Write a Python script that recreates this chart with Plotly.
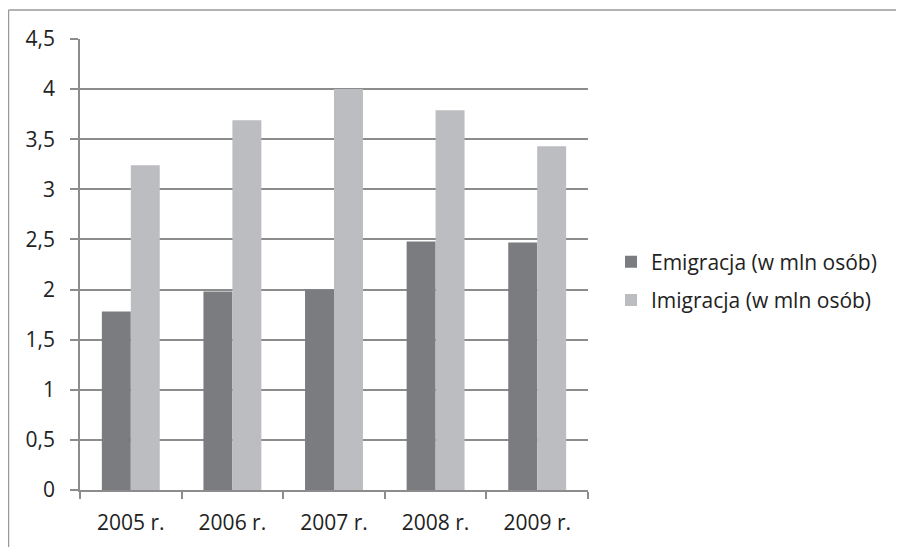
import plotly.graph_objects as go

categories = ["2005 r.", "2006 r.", "2007 r.", "2008 r.", "2009 r."]
emigracja = [1.78, 1.98, 2.00, 2.48, 2.47]
imigracja = [3.24, 3.69, 4.00, 3.79, 3.43]
series_names = ["Emigracja (w mln osób)", "Imigracja (w mln osób)"]
y_ticks = [0, 0.5, 1, 1.5, 2, 2.5, 3, 3.5, 4, 4.5]

FONT = "Open Sans"
FS = 21
W, H = 904, 547
L, T = 72, 31
pw, ph = 508, 451
R = W - L - pw
B = H - T - ph

fig = go.Figure()
fig.add_trace(go.Bar(x=categories, y=emigracja, name=series_names[0],
                     marker=dict(color="#7b7c80", line=dict(width=0)), legendgroup="a"))
fig.add_trace(go.Bar(x=categories, y=imigracja, name=series_names[1],
                     marker=dict(color="#bcbdc1", line=dict(width=0)), legendgroup="b"))

# outer chart border (left and top)
bx = (0.5 - L) / pw
by = (T + ph - 2) / ph
fig.add_shape(type="line", xref="paper", yref="paper", x0=bx, x1=bx, y0=-0.5, y1=by,
              line=dict(color="#9a9a9a", width=1.5))
fig.add_shape(type="line", xref="paper", yref="paper", x0=bx, x1=2, y0=by, y1=by,
              line=dict(color="#9a9a9a", width=1.5))

fig.update_layout(
    width=W, height=H,
    margin=dict(l=L, r=R, t=T, b=B),
    paper_bgcolor="white", plot_bgcolor="white",
    barmode="group", bargap=0.43, bargroupgap=0,
    separators=", ",
    font=dict(family=FONT, size=FS, color="#222222"),
    legend=dict(x=(603 - L) / pw, xanchor="left", y=(ph - 242) / ph, yanchor="middle",
                traceorder="grouped", tracegroupgap=8, font=dict(size=FS),
                itemwidth=30, bgcolor="rgba(0,0,0,0)"),
    xaxis=dict(showline=True, linecolor="#8c8c8c", linewidth=1.5, ticks="outside",
               tickson="boundaries", ticklen=7, tickcolor="#8c8c8c", tickwidth=1.5,
               showgrid=False, ticklabelstandoff=13, tickfont=dict(size=FS, color="#222222")),
    yaxis=dict(range=[0, 4.5], tickvals=y_ticks, showline=True, linecolor="#8c8c8c",
               linewidth=1.5, ticks="outside", ticklen=8, tickcolor="#8c8c8c", tickwidth=1.5,
               showgrid=True, gridcolor="#8c8c8c", gridwidth=1.5, zeroline=False,
               ticklabelstandoff=11, tickfont=dict(size=FS, color="#222222")),
)

fig.write_html("out.html")
